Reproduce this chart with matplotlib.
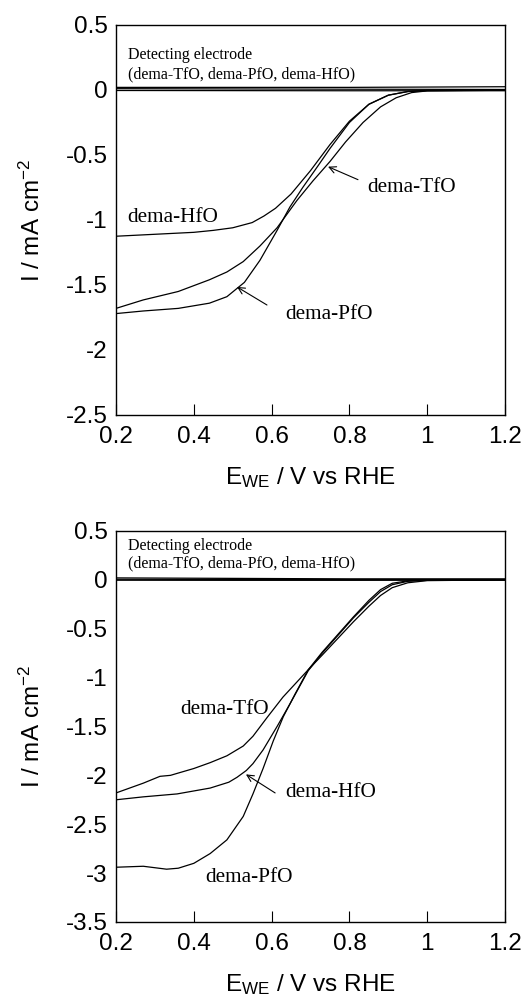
import numpy as np
import matplotlib
matplotlib.use("Agg")
import matplotlib.pyplot as plt

# ---------------------------------------------------------------------
# Datos (E / V vs RHE, I / mA cm^-2)
# ---------------------------------------------------------------------

# Panel superior
sup_hfo_x = [0.2, 0.3, 0.4, 0.45, 0.5, 0.55, 0.58, 0.61, 0.65, 0.7, 0.75, 0.8, 0.85, 0.9, 0.95, 1.0, 1.2]
sup_hfo_y = [-1.125, -1.11, -1.095, -1.08, -1.06, -1.02, -0.97, -0.91, -0.80, -0.62, -0.42, -0.24, -0.11, -0.04, -0.012, -0.004, -0.002]

sup_pfo_x = [0.2, 0.27, 0.36, 0.44, 0.485, 0.53, 0.57, 0.614, 0.647, 0.68, 0.72, 0.75, 0.8, 0.85, 0.9, 0.95, 1.0, 1.2]
sup_pfo_y = [-1.72, -1.70, -1.68, -1.64, -1.59, -1.48, -1.31, -1.08, -0.90, -0.75, -0.58, -0.45, -0.25, -0.11, -0.04, -0.012, -0.004, -0.002]

sup_tfo_x = [0.2, 0.27, 0.36, 0.44, 0.485, 0.527, 0.57, 0.614, 0.665, 0.706, 0.75, 0.79, 0.835, 0.88, 0.92, 0.96, 1.0, 1.2]
sup_tfo_y = [-1.68, -1.615, -1.55, -1.46, -1.40, -1.32, -1.20, -1.06, -0.85, -0.70, -0.55, -0.40, -0.25, -0.13, -0.06, -0.02, -0.007, -0.002]

sup_det_x = [0.2, 0.5, 0.8, 1.2]
sup_det_y = [[0.02, 0.02, 0.02, 0.025], [0.01, 0.008, 0.006, 0.004], [-0.004, -0.005, -0.006, -0.006]]

# Panel inferior
inf_pfo_x = [0.2, 0.27, 0.33, 0.36, 0.40, 0.442, 0.485, 0.527, 0.552, 0.578, 0.604, 0.63, 0.66, 0.694,
             0.73, 0.77, 0.81, 0.85, 0.88, 0.91, 0.95, 1.0, 1.2]
inf_pfo_y = [-2.94, -2.93, -2.96, -2.95, -2.90, -2.80, -2.66, -2.42, -2.19, -1.93, -1.65, -1.40, -1.17, -0.92,
             -0.74, -0.56, -0.38, -0.21, -0.10, -0.035, -0.01, -0.003, 0.0]

inf_hfo_x = [0.2, 0.27, 0.357, 0.442, 0.49, 0.511, 0.535, 0.552, 0.578, 0.614, 0.647, 0.694,
             0.73, 0.77, 0.81, 0.85, 0.88, 0.91, 0.95, 1.0, 1.2]
inf_hfo_y = [-2.25, -2.22, -2.19, -2.13, -2.07, -2.02, -1.95, -1.88, -1.74, -1.50, -1.27, -0.93,
             -0.75, -0.57, -0.39, -0.23, -0.12, -0.05, -0.015, -0.005, 0.0]

inf_tfo_x = [0.2, 0.27, 0.313, 0.34, 0.357, 0.40, 0.442, 0.485, 0.527, 0.552, 0.588, 0.629, 0.694,
             0.73, 0.77, 0.81, 0.85, 0.88, 0.91, 0.95, 1.0, 1.2]
inf_tfo_y = [-2.18, -2.08, -2.01, -2.00, -1.98, -1.93, -1.87, -1.80, -1.70, -1.60, -1.41, -1.20, -0.92,
             -0.77, -0.60, -0.43, -0.27, -0.16, -0.08, -0.03, -0.008, 0.0]

inf_det_x = [0.2, 0.5, 0.8, 1.2]
inf_det_y = [[0.02, 0.015, 0.01, 0.01], [0.006, 0.004, 0.004, 0.004], [-0.004, -0.005, -0.005, -0.004]]

xticks = [0.2, 0.4, 0.6, 0.8, 1.0, 1.2]
xtick_labels = ["0.2", "0.4", "0.6", "0.8", "1", "1.2"]
sup_yticks = [0.5, 0, -0.5, -1, -1.5, -2, -2.5]
sup_ytick_labels = ["0.5", "0", "-0.5", "-1", "-1.5", "-2", "-2.5"]
inf_yticks = [0.5, 0, -0.5, -1, -1.5, -2, -2.5, -3, -3.5]
inf_ytick_labels = ["0.5", "0", "-0.5", "-1", "-1.5", "-2", "-2.5", "-3", "-3.5"]

SANS = "Liberation Sans"
SERIF = "Liberation Serif"
LW = 0.9
FS = 17.5

plt.rcParams["mathtext.fontset"] = "custom"
plt.rcParams["mathtext.rm"] = SANS
plt.rcParams["mathtext.it"] = SANS

fig = plt.figure(figsize=(5.25, 9.99), dpi=100)
ax_sup = fig.add_axes([0.221, 0.5846, 0.741, 0.3904])
ax_inf = fig.add_axes([0.221, 0.0771, 0.741, 0.3914])


def preparar(ax, yticks, ylabels, ylim):
    ax.set_xlim(0.2, 1.2)
    ax.set_ylim(*ylim)
    ax.set_xticks(xticks)
    ax.set_xticklabels(xtick_labels, family=SANS, fontsize=FS)
    ax.set_yticks(yticks)
    ax.set_yticklabels(ylabels, family=SANS, fontsize=FS)
    ax.tick_params(axis="x", direction="in", length=8, width=0.8, pad=8)
    ax.tick_params(axis="y", length=0, pad=6)
    for s in ax.spines.values():
        s.set_linewidth(1.0)
    ax.set_xlabel(r"E$_{\mathregular{WE}}$ / V vs RHE", family=SANS, fontsize=FS)
    ax.xaxis.set_label_coords(0.5, -0.128)
    ax.set_ylabel(r"I / mA cm$^{\mathregular{-2}}$", family=SANS, fontsize=FS)
    ax.yaxis.set_label_coords(-0.182, 0.5)


def etiqueta(ax, txt, x, y, fs=15.3):
    ax.text(x, y, txt, family=SERIF, fontsize=fs, ha="left", va="center")


def flecha(ax, tail, tip):
    ax.annotate("", xy=tip, xytext=tail,
                arrowprops=dict(arrowstyle="->", lw=0.8, color="black",
                                shrinkA=0, shrinkB=0, mutation_scale=12))


# --- panel superior
ax = ax_sup
for yy in sup_det_y:
    ax.plot(sup_det_x, yy, color="black", lw=LW)
ax.plot(sup_hfo_x, sup_hfo_y, color="black", lw=LW)
ax.plot(sup_pfo_x, sup_pfo_y, color="black", lw=LW)
ax.plot(sup_tfo_x, sup_tfo_y, color="black", lw=LW)
preparar(ax, sup_yticks, sup_ytick_labels, (-2.5, 0.5))
etiqueta(ax, "Detecting electrode", 0.231, 0.27, fs=11.5)
etiqueta(ax, "(dema-TfO, dema-PfO, dema-HfO)", 0.231, 0.123, fs=11.5)
etiqueta(ax, "dema-HfO", 0.228, -0.98)
etiqueta(ax, "dema-TfO", 0.845, -0.754)
etiqueta(ax, "dema-PfO", 0.634, -1.73)
flecha(ax, (0.822, -0.69), (0.745, -0.59))
flecha(ax, (0.588, -1.654), (0.511, -1.515))

# --- panel inferior
ax = ax_inf
for yy in inf_det_y:
    ax.plot(inf_det_x, yy, color="black", lw=LW)
ax.plot(inf_pfo_x, inf_pfo_y, color="black", lw=LW)
ax.plot(inf_hfo_x, inf_hfo_y, color="black", lw=LW)
ax.plot(inf_tfo_x, inf_tfo_y, color="black", lw=LW)
preparar(ax, inf_yticks, inf_ytick_labels, (-3.5, 0.5))
etiqueta(ax, "Detecting electrode", 0.231, 0.348, fs=11.5)
etiqueta(ax, "(dema-TfO, dema-PfO, dema-HfO)", 0.231, 0.164, fs=11.5)
etiqueta(ax, "dema-TfO", 0.365, -1.33)
etiqueta(ax, "dema-HfO", 0.634, -2.18)
etiqueta(ax, "dema-PfO", 0.429, -3.05)
flecha(ax, (0.609, -2.18), (0.534, -1.99))

fig.savefig("out.png", dpi=100)
